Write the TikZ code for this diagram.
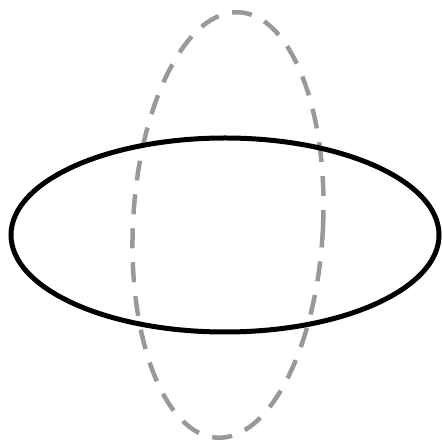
\documentclass[tikz,border=0pt]{standalone}
\usepackage{amsmath,amssymb,mathtools}
\usepackage{tikz}

\begin{document}
\begin{tikzpicture}[x=1pt,y=1pt]
        \useasboundingbox (0,0) rectangle (443,443);
        \draw[line width=4.5pt,gray!80!white,dash pattern=on 20pt off 14pt] (228,218) ellipse[x radius=95,y radius=213,rotate=-3];
        \draw[line width=5pt,black] (225,208) ellipse[x radius=214,y radius=97];
    \end{tikzpicture}
\end{document}
